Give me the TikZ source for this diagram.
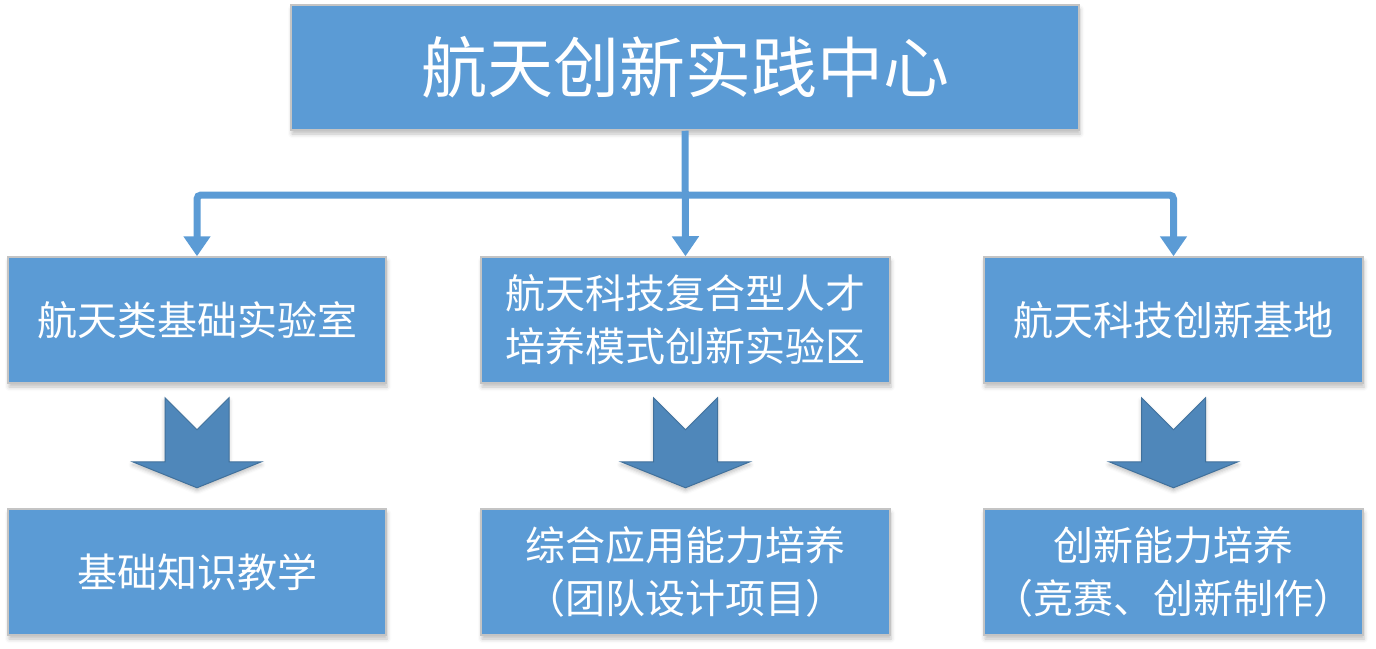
\documentclass[tikz,border=0pt]{standalone}
\usepackage{fontspec}
\newfontfamily\cjk{Noto Sans CJK SC}
\usetikzlibrary{arrows.meta,shadows.blur}
\definecolor{boxblue}{HTML}{5B9BD5}
\definecolor{boxedge}{HTML}{C4C4C4}
\definecolor{arrowblue}{HTML}{4F87BA}
\definecolor{arrowedge}{HTML}{41719C}
\tikzset{
  box/.style={rectangle, fill=boxblue, draw=boxedge, line width=1.5pt, text=white,
    align=center, inner sep=0pt,
    font=\cjk\fontsize{40}{53}\selectfont,
    blur shadow={shadow xshift=1pt, shadow yshift=-4pt, shadow blur radius=4pt, shadow opacity=25}},
  conn/.style={draw=boxblue, line width=7pt, -{Triangle[width=26pt,length=20pt]}},
  blockarrow/.style={fill=arrowblue, draw=arrowedge, line width=1pt, line join=miter,
    blur shadow={shadow xshift=0pt, shadow yshift=-3pt, shadow blur radius=4pt, shadow opacity=25}}
}
\begin{document}
\begin{tikzpicture}[x=1pt,y=-1pt]
\useasboundingbox (0,0) rectangle (1376,648);
\node[box, minimum width=788pt, minimum height=125pt, font=\cjk\fontsize{66}{70}\selectfont] (top) at (685,67.5) {航天创新实践中心};
\node[box, minimum width=378pt, minimum height=126pt] (a1) at (197,320) {航天类基础实验室};
\node[box, minimum width=409pt, minimum height=126pt] (b1) at (685.5,320) {航天科技复合型人才\\培养模式创新实验区};
\node[box, minimum width=379pt, minimum height=126pt] (c1) at (1173.5,320) {航天科技创新基地};
\node[box, minimum width=378pt, minimum height=126pt] (a2) at (197,572) {基础知识教学};
\node[box, minimum width=409pt, minimum height=126pt] (b2) at (685.5,572) {综合应用能力培养\\（团队设计项目）};
\node[box, minimum width=379pt, minimum height=126pt] (c2) at (1173.5,572) {创新能力培养\\（竞赛、创新制作）};
\coordinate (hub) at (685.5,195);
\draw[conn] (top.south) -- (b1.north);
\draw[conn, rounded corners=4pt] (hub) -| (a1.north);
\draw[conn, rounded corners=4pt] (hub) -| (c1.north);
\foreach \n in {a1,b1,c1}{
  \begin{scope}[shift={(\n.south)}]
    \path[blockarrow] (-32,14) -- (0,46) -- (32,14) -- (32,78) -- (64.5,78) -- (0,104) -- (-64.5,78) -- (-32,78) -- cycle;
  \end{scope}
}
\end{tikzpicture}
\end{document}
